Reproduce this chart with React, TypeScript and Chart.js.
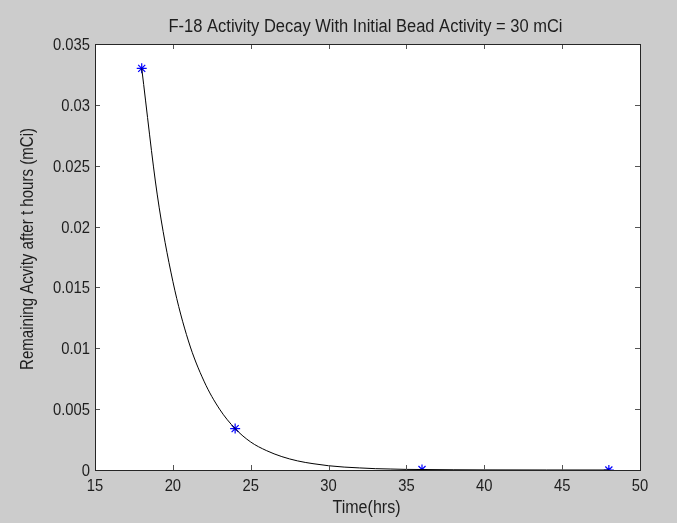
import React, { useEffect, useRef } from "react";
import { Chart, registerables } from "chart.js";

Chart.register(...registerables);

const chartTitle = "F-18 Activity Decay With Initial Bead Activity = 30 mCi";
const xAxisTitle = "Time(hrs)";
const yAxisTitle = "Remaining Acvity after t hours (mCi)";

const xTicks = [15, 20, 25, 30, 35, 40, 45, 50];
const yTicks = [0, 0.005, 0.01, 0.015, 0.02, 0.025, 0.03, 0.035];

const curveHours = [18, 19, 20, 21, 22, 23, 24, 25, 26, 27, 28, 29, 30, 31, 32, 33, 34, 35, 36, 38, 40, 44, 48];
const curveActivity = [
  0.033, 0.0226, 0.0155, 0.0106, 0.0073, 0.005, 0.0034, 0.0023, 0.0016, 0.0011, 0.00075, 0.00052,
  0.00035, 0.00024, 0.00017, 0.00011, 0.00008, 0.00005, 0.00004, 0.00002, 0.00001, 0.000002, 0.0000004,
];

const sampleHours = [18, 24, 36, 48];
const sampleActivity = [0.033, 0.0034, 0.00004, 0.0000004];

const FONT = "'Liberation Sans', Arial, Helvetica, sans-serif";
const TEXT = "#1e1e1e";

const fmt = (v: number) => String(+v.toFixed(4));

function drawFitted(ctx: any, text: string, x: number, y: number, size: number, opts: { width?: number; sx?: number; align?: string; rotate?: number }) {
  ctx.save();
  ctx.font = `${size}px ${FONT}`;
  ctx.textBaseline = "alphabetic";
  ctx.textAlign = opts.align || "center";
  ctx.translate(x, y);
  if (opts.rotate) ctx.rotate(opts.rotate);
  const w = ctx.measureText(text).width;
  const sx = opts.width ? opts.width / w : opts.sx || 1;
  ctx.scale(sx, 1);
  ctx.fillText(text, 0, 0);
  ctx.restore();
}

const framePlugin = {
  id: "matlabFrame",
  beforeDraw(chart: any) {
    const { ctx, chartArea: a } = chart;
    ctx.save();
    ctx.fillStyle = "#ffffff";
    ctx.fillRect(a.left, a.top, a.right - a.left, a.bottom - a.top);
    ctx.restore();
  },
  afterDraw(chart: any) {
    const { ctx, chartArea: a, scales } = chart;
    ctx.save();
    ctx.strokeStyle = "#555555";
    ctx.lineWidth = 1;
    const tl = 5;
    ctx.beginPath();
    for (const v of xTicks) {
      const x = Math.round(scales.x.getPixelForValue(v)) + 0.5;
      ctx.moveTo(x, a.bottom);
      ctx.lineTo(x, a.bottom - tl);
      ctx.moveTo(x, a.top);
      ctx.lineTo(x, a.top + tl);
    }
    for (const v of yTicks) {
      const y = Math.round(scales.y.getPixelForValue(v)) + 0.5;
      ctx.moveTo(a.left, y);
      ctx.lineTo(a.left + tl, y);
      ctx.moveTo(a.right, y);
      ctx.lineTo(a.right - tl, y);
    }
    ctx.stroke();
    ctx.strokeStyle = "#262626";
    ctx.strokeRect(Math.round(a.left) + 0.5, Math.round(a.top) + 0.5, Math.round(a.right - a.left), Math.round(a.bottom - a.top));

    ctx.fillStyle = TEXT;
    // tick labels
    for (const v of yTicks) {
      const y = scales.y.getPixelForValue(v);
      drawFitted(ctx, fmt(v), a.left - 5, y + 6, 17, { sx: 0.87, align: "right" });
    }
    for (const v of xTicks) {
      const x = scales.x.getPixelForValue(v);
      drawFitted(ctx, fmt(v), x, a.bottom + 21, 17, { sx: 0.87, align: "center" });
    }
    const cx = (a.left + a.right) / 2;
    drawFitted(ctx, chartTitle, cx - 2, 32, 18, { width: 394 });
    drawFitted(ctx, xAxisTitle, cx - 1, 513, 18, { width: 68 });
    drawFitted(ctx, yAxisTitle, 33, 249, 18, { width: 242, rotate: -Math.PI / 2 });
    ctx.restore();
  },
};

export default function App() {
  const ref = useRef<HTMLCanvasElement | null>(null);
  useEffect(() => {
    if (!ref.current) return;
    const chart = new Chart(ref.current, {
      type: "line",
      data: {
        datasets: [
          {
            label: "curve",
            data: curveHours.map((h, i) => ({ x: h, y: curveActivity[i] })),
            borderColor: "#000000",
            borderWidth: 1,
            pointRadius: 0,
            cubicInterpolationMode: "monotone",
            fill: false,
          },
          {
            label: "samples",
            data: sampleHours.map((h, i) => ({ x: h, y: sampleActivity[i] })),
            showLine: false,
            pointStyle: "star",
            pointRadius: 5,
            borderColor: "#0000ff",
            backgroundColor: "#0000ff",
            pointBorderWidth: 1.2,
          },
        ],
      },
      options: {
        animation: false,
        responsive: true,
        maintainAspectRatio: false,
        layout: { padding: { top: 44, right: 37, left: 0, bottom: 0 } },
        plugins: { legend: { display: false }, tooltip: { enabled: false }, title: { display: false } },
        scales: {
          x: {
            type: "linear",
            min: 15,
            max: 50,
            afterBuildTicks: (s: any) => {
              s.ticks = xTicks.map((v) => ({ value: v }));
            },
            afterFit: (s: any) => {
              s.height = 53;
            },
            grid: { display: false, drawTicks: false },
            border: { display: false },
            ticks: { display: false },
          },
          y: {
            type: "linear",
            min: 0,
            max: 0.035,
            afterBuildTicks: (s: any) => {
              s.ticks = yTicks.map((v) => ({ value: v }));
            },
            afterFit: (s: any) => {
              s.width = 95;
            },
            grid: { display: false, drawTicks: false },
            border: { display: false },
            ticks: { display: false },
          },
        },
      },
      plugins: [framePlugin],
    });
    return () => chart.destroy();
  }, []);
  return (
    <div style={{ position: "fixed", left: 0, top: 0, width: 677, height: 523, background: "#cccccc" }}>
      <canvas ref={ref} />
    </div>
  );
}
